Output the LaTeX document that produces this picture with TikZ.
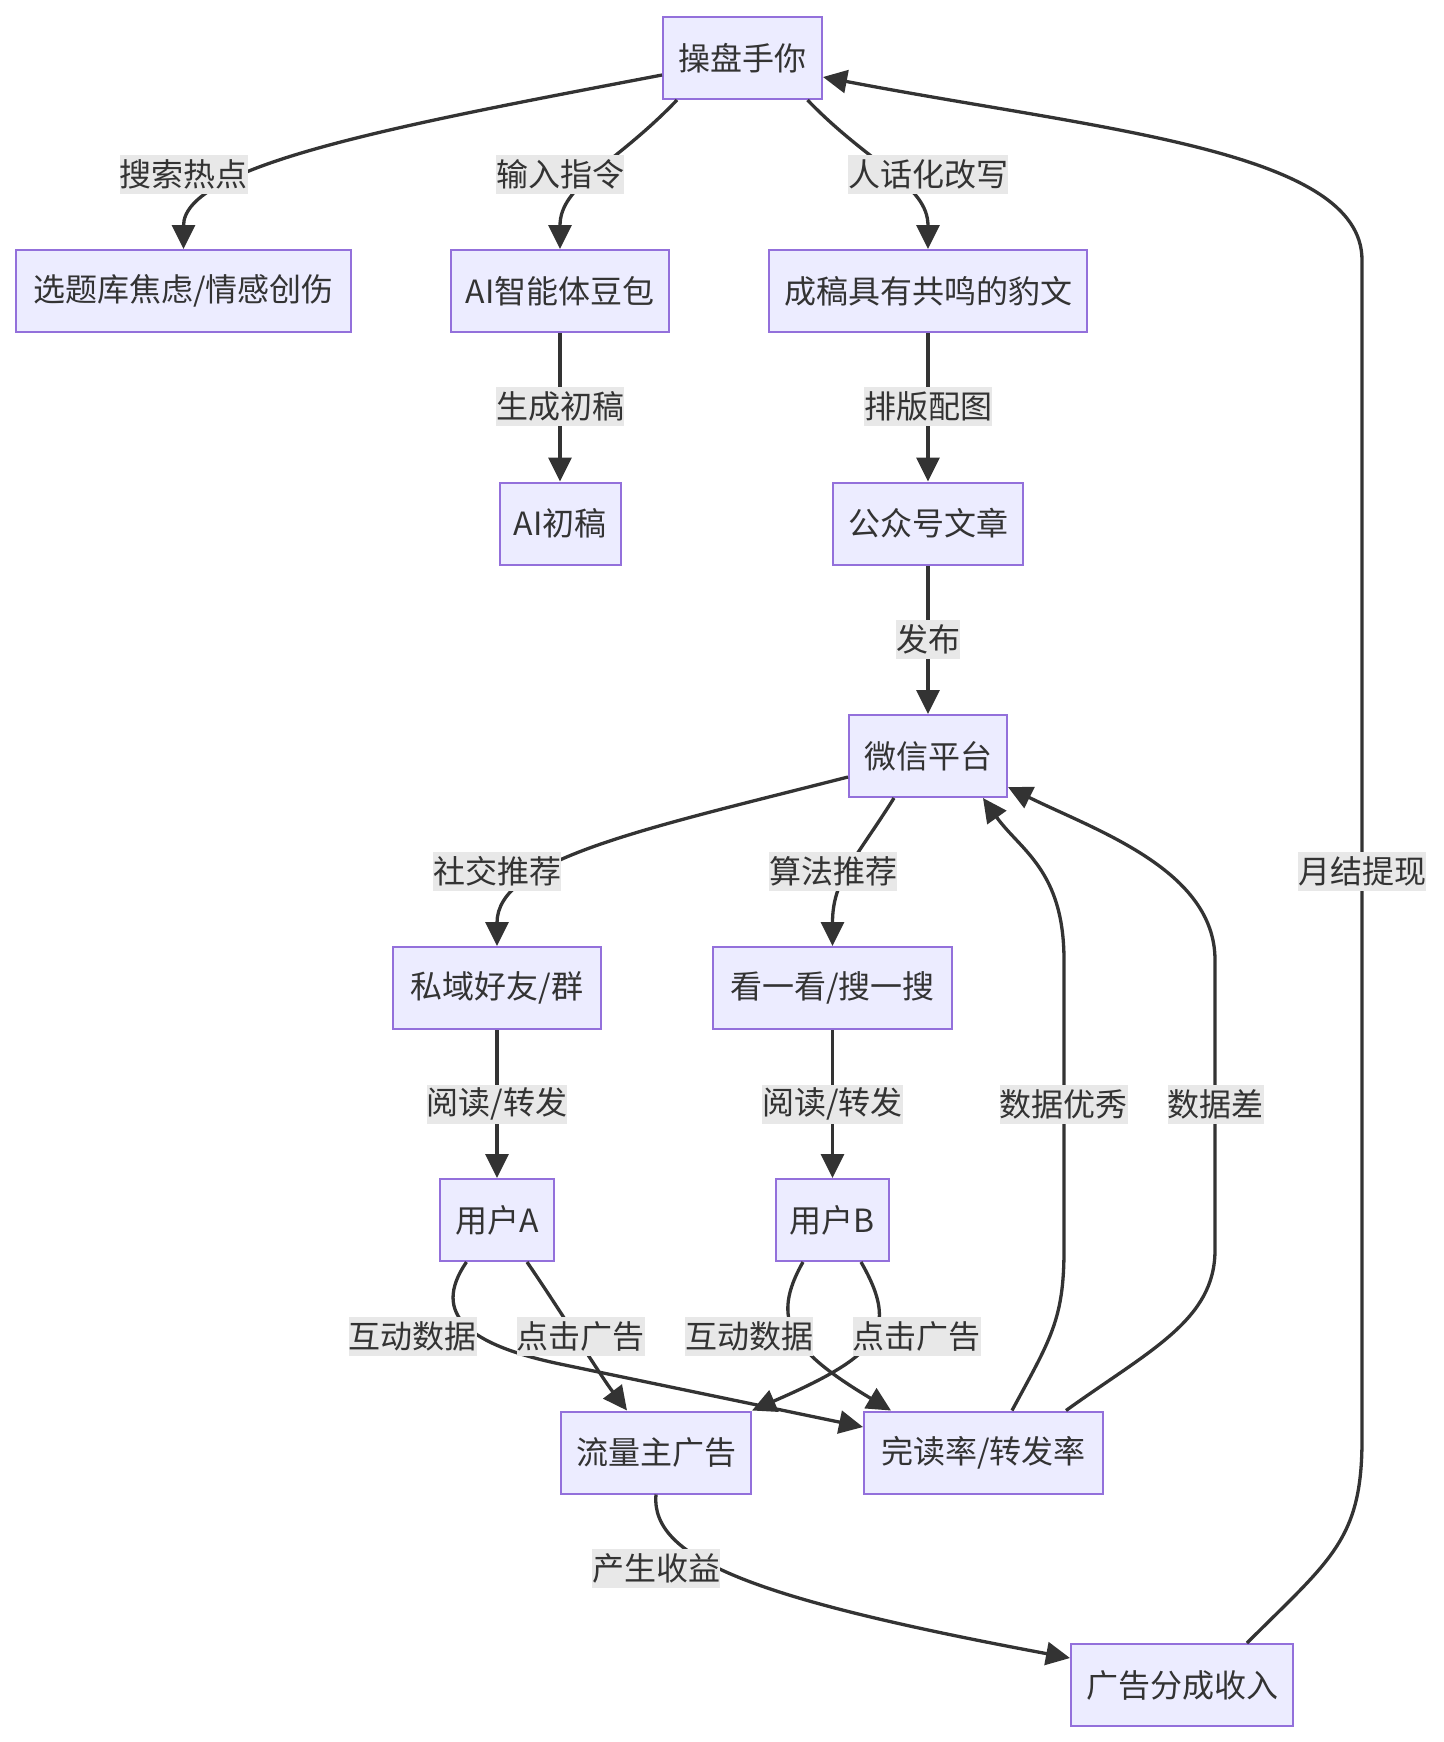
\documentclass[tikz,border=0pt]{standalone}
\usepackage{fontspec}
\newfontfamily\cjk{Noto Sans CJK SC}
\usetikzlibrary{arrows.meta}
\definecolor{nodefill}{HTML}{ECECFF}
\definecolor{nodeborder}{HTML}{9370DB}
\definecolor{linec}{HTML}{333333}
\definecolor{lblbg}{HTML}{E8E8E8}
\definecolor{txt}{HTML}{333333}
\begin{document}
\begin{tikzpicture}[x=0.5pt,y=-0.5pt,
  box/.style={draw=nodeborder, fill=nodefill, line width=1pt, minimum height=41pt, inner sep=0pt, text=txt, font=\cjk\fontsize{16pt}{19pt}\selectfont},
  lbl/.style={fill=lblbg, inner xsep=0pt, inner ysep=0pt, minimum height=19.5pt, text=txt, font=\cjk\fontsize{16pt}{19pt}\selectfont},
  edge/.style={draw=linec, line width=1.65pt, -{Triangle[length=12pt,width=11.5pt]}}]
\useasboundingbox (0,0) rectangle (1444,1742);
% nodes
\node[box, minimum width=79.5pt] (op) at (742.5,58) {操盘手你};
\node[box, minimum width=167.5pt] (xt) at (183.5,291) {选题库焦虑/情感创伤};
\node[box, minimum width=109pt] (ai) at (560,291) {AI智能体豆包};
\node[box, minimum width=159pt] (cg) at (928,291) {成稿具有共鸣的豹文};
\node[box, minimum width=60.5pt] (aic) at (560,523.5) {AI初稿};
\node[box, minimum width=95pt] (gzh) at (928,523.5) {公众号文章};
\node[box, minimum width=79pt] (wx) at (928,756) {微信平台};
\node[box, minimum width=104pt] (sy) at (497,988) {私域好友/群};
\node[box, minimum width=119.5pt] (kk) at (832.5,988) {看一看/搜一搜};
\node[box, minimum width=57pt] (ua) at (497,1220) {用户A};
\node[box, minimum width=56.5pt] (ub) at (832.5,1220) {用户B};
\node[box, minimum width=95pt] (ll) at (656,1452.5) {流量主广告};
\node[box, minimum width=119.5pt] (wd) at (983.5,1452.5) {完读率/转发率};
\node[box, minimum width=111pt] (gg) at (1182,1685) {广告分成收入};
% edges
\draw[edge] ([yshift=-8.5pt]op.west) .. controls (400,125) and (183.5,165) .. (xt.north);
\draw[edge] ([xshift=-32.75pt]op.south) .. controls (615,165) and (560,185) .. (ai.north);
\draw[edge] ([xshift=32.5pt]op.south) .. controls (870,165) and (928,185) .. (cg.north);
\draw[edge] (ai.south) -- (aic.north);
\draw[edge] (cg.south) -- (gzh.north);
\draw[edge] (gzh.south) -- (wx.north);
\draw[edge] ([yshift=-10.5pt]wx.west) .. controls (640,830) and (497,860) .. (sy.north);
\draw[edge] ([xshift=-17pt]wx.south) .. controls (855,860) and (832.5,880) .. (kk.north);
\draw[edge] (sy.south) -- (ua.north);
\draw[edge] (kk.south) -- (ub.north);
\draw[edge] ([xshift=14.25pt]wd.north) .. controls (1050,1340) and (1064,1320) .. (1064,1250) -- (1064,960) .. controls (1064,870) and (1020,850) .. ([xshift=27.5pt]wx.south);
\draw[edge] ([xshift=41.25pt]wd.north) .. controls (1150,1350) and (1215,1320) .. (1215,1250) -- (1215,960) .. controls (1215,870) and (1095,830) .. ([yshift=-15.5pt]wx.east);
\draw[edge] ([xshift=15pt]ua.south) .. controls (560,1310) and (600,1375) .. ([xshift=-14.5pt]ll.north);
\draw[edge] ([xshift=-15.25pt]ua.south) .. controls (430,1315) and (470,1345) .. (560,1364) -- ([yshift=12.75pt]wd.west);
\draw[edge] ([xshift=14.25pt]ub.south) .. controls (900,1330) and (880,1355) .. (ll.north east);
\draw[edge] ([xshift=-14.75pt]ub.south) .. controls (770,1320) and (790,1350) .. ([xshift=-46.25pt]wd.north);
\draw[edge] (ll.south) .. controls (650,1560) and (760,1600) .. ([yshift=13.5pt]gg.west);
\draw[edge] ([xshift=32.5pt]gg.north) .. controls (1330,1560) and (1362,1540) .. (1362,1440) -- (1362,260) .. controls (1362,150) and (1100,130) .. ([yshift=-9.5pt]op.east);
% labels
\node[lbl] (l1) at (183.5,174.5) {搜索热点};
\node[lbl] (l2) at (560,174.5) {输入指令};
\node[lbl] (l3) at (928,174.5) {人话化改写};
\node[lbl] (l4) at (560,406.5) {生成初稿};
\node[lbl] (l5) at (928,406.5) {排版配图};
\node[lbl] (l6) at (928,639.5) {发布};
\node[lbl] (l7) at (497,871.5) {社交推荐};
\node[lbl] (l8) at (833,871.5) {算法推荐};
\node[lbl] (l9) at (1362,871.5) {月结提现};
\node[lbl] (l10) at (497,1104) {阅读/转发};
\node[lbl] (l11) at (832.5,1104) {阅读/转发};
\node[lbl] (l12) at (1063.5,1104) {数据优秀};
\node[lbl] (l13) at (1215.5,1104) {数据差};
\node[lbl] (l14) at (412.5,1336) {互动数据};
\node[lbl] (l15) at (580.5,1336) {点击广告};
\node[lbl] (l16) at (749,1336) {互动数据};
\node[lbl] (l17) at (916.5,1336) {点击广告};
\node[lbl] (l18) at (656,1568.5) {产生收益};
\end{tikzpicture}
\end{document}
